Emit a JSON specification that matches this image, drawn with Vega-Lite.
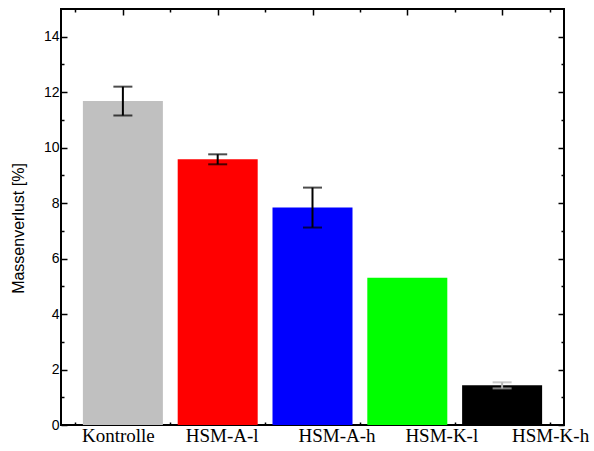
{
  "$schema": "https://vega.github.io/schema/vega-lite/v6.json",
  "width": 503,
  "height": 416,
  "autosize": {"type": "none"},
  "padding": {"left": 61, "top": 9, "right": 30, "bottom": 26},
  "background": "white",
  "config": {
    "view": {"stroke": "#000", "strokeWidth": 2},
    "axis": {"domain": false, "grid": false, "tickColor": "#000", "tickWidth": 1.5, "labelColor": "#000", "titleColor": "#000"}
  },
  "data": {
    "values": [
      {"group": "Kontrolle", "idx": 1, "mean": 11.68, "err": 0.52},
      {"group": "HSM-A-l", "idx": 2, "mean": 9.58, "err": 0.18},
      {"group": "HSM-A-h", "idx": 3, "mean": 7.84, "err": 0.72},
      {"group": "HSM-K-l", "idx": 4, "mean": 5.31, "err": 0},
      {"group": "HSM-K-h", "idx": 5, "mean": 1.43, "err": 0.11}
    ]
  },
  "layer": [
    {
      "mark": {"type": "bar", "width": 80},
      "encoding": {
        "x": {
          "field": "idx", "type": "quantitative",
          "scale": {"domain": [0.4, 5.6], "nice": false, "zero": false},
          "axis": {
            "orient": "bottom", "title": null,
            "values": [0.5, 1, 1.5, 2, 2.5, 3, 3.5, 4, 4.5, 5, 5.5],
            "tickSize": {"condition": {"test": "datum.value % 1 === 0", "value": -6}, "value": -3},
            "labelExpr": "datum.value == 1 ? 'Kontrolle' : datum.value == 2 ? 'HSM-A-l' : datum.value == 3 ? 'HSM-A-h' : datum.value == 4 ? 'HSM-K-l' : datum.value == 5 ? 'HSM-K-h' : ''",
            "labelFont": "Liberation Serif", "labelFontSize": 19,
            "labelFlush": false, "labelOverlap": false, "labelBound": false,
            "labelPadding": 7,
            "labelOffset": {
              "condition": [
                {"test": "datum.value == 1", "value": -5},
                {"test": "datum.value == 2", "value": 4},
                {"test": "datum.value == 3", "value": 24},
                {"test": "datum.value == 4", "value": 34},
                {"test": "datum.value == 5", "value": 48}
              ],
              "value": 0
            }
          }
        },
        "y": {
          "field": "mean", "type": "quantitative",
          "scale": {"domain": [0, 15], "nice": false},
          "axis": {
            "orient": "left",
            "title": "Massenverlust [%]",
            "values": [0, 1, 2, 3, 4, 5, 6, 7, 8, 9, 10, 11, 12, 13, 14],
            "tickSize": {"condition": {"test": "datum.value % 2 === 0", "value": -6}, "value": -3},
            "labelExpr": "datum.value % 2 === 0 ? datum.label : ''",
            "labelFont": "Liberation Sans", "labelFontSize": 14, "labelPadding": 8,
            "labelOverlap": false, "labelFlush": false,
            "titleFont": "Liberation Sans", "titleFontSize": 16, "titleFontWeight": "normal",
            "titleX": -43, "titleY": 219, "titleAlign": "center", "titleBaseline": "middle", "titleAngle": -90
          }
        },
        "color": {
          "field": "group", "type": "nominal",
          "scale": {"domain": ["Kontrolle", "HSM-A-l", "HSM-A-h", "HSM-K-l", "HSM-K-h"], "range": ["#c0c0c0", "#ff0000", "#0000ff", "#00ff00", "#000000"]},
          "legend": null
        }
      }
    },
    {
      "transform": [{"filter": "datum.err > 0"}],
      "mark": {"type": "errorbar", "ticks": {"size": 19, "thickness": 2}, "rule": {"strokeWidth": 2}},
      "encoding": {
        "x": {
          "field": "idx", "type": "quantitative",
          "axis": {
            "orient": "top", "title": null, "labels": false,
            "values": [0.5, 1, 1.5, 2, 2.5, 3, 3.5, 4, 4.5, 5, 5.5],
            "tickSize": {"condition": {"test": "datum.value % 1 === 0", "value": -6}, "value": -3}
          }
        },
        "y": {
          "field": "mean", "type": "quantitative",
          "axis": {
            "orient": "right", "title": null, "labels": false,
            "values": [0, 1, 2, 3, 4, 5, 6, 7, 8, 9, 10, 11, 12, 13, 14],
            "tickSize": {"condition": {"test": "datum.value % 2 === 0", "value": -6}, "value": -3}
          }
        },
        "yError": {"field": "err"},
        "color": {"condition": {"test": "datum.group === 'HSM-K-h'", "value": "#b4b4b4"}, "value": "#000000"}
      }
    }
  ],
  "resolve": {"axis": {"x": "independent", "y": "independent"}}
}
